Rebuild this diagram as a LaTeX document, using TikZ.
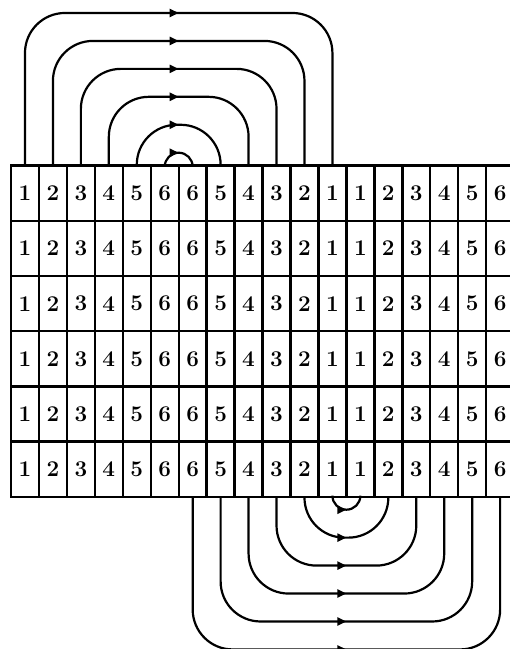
\documentclass[tikz,border=0pt]{standalone}
\usepackage{fontspec}
\usetikzlibrary{arrows.meta,decorations.markings,calc}
\begin{document}
\begin{tikzpicture}[x=1pt,y=1pt,
  cell/.style={draw, line width=2.4pt, minimum width=27.95pt, minimum height=55.17pt,
    inner sep=0pt, outer sep=0pt, font=\fontsize{22.5}{25}\selectfont\bfseries},
  flowline/.style={line width=2.2pt, postaction={decorate, decoration={markings,
    mark=at position 0.5 with {\arrow{Triangle[length=9pt,width=8pt]}}}}}]
\useasboundingbox (0,0) rectangle (510,649);
\begin{scope}
\clip (0,0) rectangle (510,649);
\foreach \i in {1,...,6}{
  \foreach \n [count=\j] in {1,2,3,4,5,6,6,5,4,3,2,1,1,2,3,4,5,6}{
    \node[cell] (c\i-\j) at ({11+(\j-0.5)*27.95},{483.3-(\i-0.5)*55.17}) {\n};
  }
}
\end{scope}
% top loops
\foreach \k in {1,...,6}{
  \pgfmathtruncatemacro\m{13-\k}
  \pgfmathsetmacro\rr{min(40,(13-2*\k)*27.95/2)}
  \draw[flowline, rounded corners=\rr pt] let \p1=(c1-\k.north), \p2=(c1-\m.north), \n1={(\x2-\x1)/2} in
    (\p1) -- (\x1,\y1+\n1-1) -- (\x2,\y1+\n1-1) -- (\p2);
}
% bottom loops
\foreach \k in {7,...,12}{
  \pgfmathtruncatemacro\m{25-\k}
  \pgfmathsetmacro\rr{min(40,(25-2*\k)*27.95/2)}
  \draw[flowline, rounded corners=\rr pt] let \p1=(c6-\k.south), \p2=(c6-\m.south), \n1={(\x2-\x1)/2} in
    (\p1) -- (\x1,\y1-\n1+1) -- (\x2,\y1-\n1+1) -- (\p2);
}
\end{tikzpicture}
\end{document}
